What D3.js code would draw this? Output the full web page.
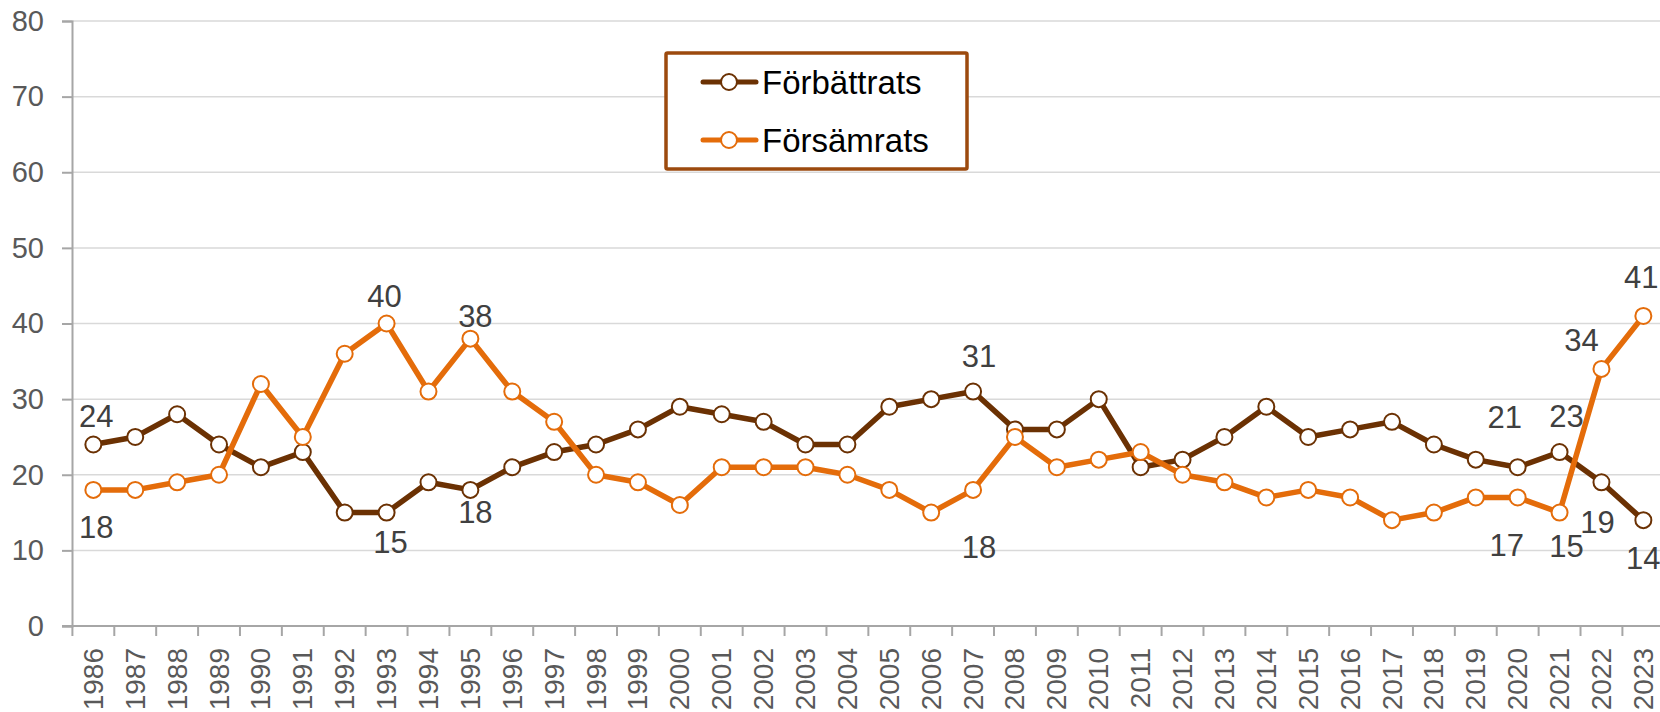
<!DOCTYPE html>
<html>
<head>
<meta charset="utf-8">
<script src="https://cdn.jsdelivr.net/npm/d3@7"></script>
<style>
    body { margin: 0; background: #fff; }
    svg { display: block; font-family: "Liberation Sans", Arial, sans-serif; }
</style>
</head>
<body>
<div id="chart"></div>
<script>
// Data
const years = d3.range(1986, 2024).map(String);
const forbattrats = [24, 25, 28, 24, 21, 23, 15, 15, 19, 18, 21, 23, 24, 26, 29, 28, 27, 24, 24, 29,
    30, 31, 26, 26, 30, 21, 22, 25, 29, 25, 26, 27, 24, 22, 21, 23, 19, 14];
const forsamrats = [18, 18, 19, 20, 32, 25, 36, 40, 31, 38, 31, 27, 20, 19, 16, 21, 21, 21, 20, 18,
    15, 18, 25, 21, 22, 23, 20, 19, 17, 18, 17, 14, 15, 17, 17, 15, 34, 41];
const yTicks = [0, 10, 20, 30, 40, 50, 60, 70, 80];

// which points get a value label: [series, year]
const labelledPoints = [
    ['f', '1986'], ['s', '1986'], ['f', '1993'], ['s', '1993'], ['f', '1995'], ['s', '1995'],
    ['f', '2007'], ['s', '2007'], ['f', '2020'], ['s', '2020'], ['f', '2021'], ['s', '2021'],
    ['f', '2022'], ['s', '2022'], ['f', '2023'], ['s', '2023']
];
// label placement relative to the point (style, not data)
const labelOffsets = {
    'f1986': [3, -28], 's1986': [3, 38], 'f1993': [4, 30], 's1993': [-2, -27],
    'f1995': [5, 23], 's1995': [5, -22], 'f2007': [6, -35], 's2007': [6, 58],
    'f2020': [-13, -50], 's2020': [-11, 48], 'f2021': [7, -36], 's2021': [7, 34],
    'f2022': [-4, 40], 's2022': [-20, -28], 'f2023': [0, 38], 's2023': [-2, -38]
};

const series = [
    { key: 'f', name: 'Förbättrats', values: forbattrats, color: '#6B3103' },
    { key: 's', name: 'Försämrats', values: forsamrats, color: '#E46C0A' }
];

const width = 1660, height = 712;
const svg = d3.select('#chart').append('svg')
    .attr('width', width)
    .attr('height', height);

const x = d3.scaleBand()
    .domain(years)
    .range([72.4, 1664.3]);

const y = d3.scaleLinear()
    .domain([0, 80])
    .range([626, 21]);

const cx = yr => x(yr) + x.bandwidth() / 2;

// Gridlines
svg.append('g')
    .selectAll('line')
    .data(yTicks.filter(d => d > 0))
    .join('line')
    .attr('x1', 72).attr('x2', width)
    .attr('y1', d => y(d)).attr('y2', d => y(d))
    .attr('stroke', '#d9d9d9')
    .attr('stroke-width', 1.5);

// Y axis
const yAxis = svg.append('g')
    .attr('transform', 'translate(72,0)')
    .call(d3.axisLeft(y).tickValues(yTicks).tickSize(10).tickPadding(18));
yAxis.select('.domain').attr('stroke', '#a6a6a6').attr('stroke-width', 2);
yAxis.selectAll('.tick line').attr('stroke', '#a6a6a6').attr('stroke-width', 2);
yAxis.selectAll('text')
    .attr('fill', '#595959')
    .style('font-size', '29px')
    .style('font-family', '"Liberation Sans", Arial, sans-serif');

// X axis: ticks at band boundaries
const xAxis = svg.append('g').attr('transform', 'translate(0,626)');
xAxis.append('line')
    .attr('x1', 62).attr('x2', width)
    .attr('stroke', '#a6a6a6').attr('stroke-width', 2);
xAxis.selectAll('.tk')
    .data(years)
    .join('line')
    .attr('class', 'tk')
    .attr('x1', d => x(d)).attr('x2', d => x(d))
    .attr('y1', 0).attr('y2', 10)
    .attr('stroke', '#a6a6a6').attr('stroke-width', 2);
xAxis.selectAll('text')
    .data(years)
    .join('text')
    .attr('transform', d => `translate(${cx(d)},22) rotate(-90)`)
    .attr('text-anchor', 'end')
    .attr('dominant-baseline', 'central')
    .attr('fill', '#595959')
    .style('font-size', '28px')
    .text(d => d);

// Lines and markers
const line = d3.line()
    .x((d, i) => cx(years[i]))
    .y(d => y(d));

series.forEach(s => {
    const g = svg.append('g');
    g.append('path')
        .datum(s.values)
        .attr('d', line)
        .attr('fill', 'none')
        .attr('stroke', s.color)
        .attr('stroke-width', 5.5)
        .attr('stroke-linejoin', 'round');
    g.selectAll('circle')
        .data(s.values)
        .join('circle')
        .attr('cx', (d, i) => cx(years[i]))
        .attr('cy', d => y(d))
        .attr('r', 8)
        .attr('fill', '#fff')
        .attr('stroke', s.color)
        .attr('stroke-width', 2);
});

// Data labels
svg.append('g')
    .selectAll('text')
    .data(labelledPoints)
    .join('text')
    .attr('x', d => cx(d[1]) + labelOffsets[d[0] + d[1]][0])
    .attr('y', d => {
        const s = series.find(q => q.key === d[0]);
        return y(s.values[years.indexOf(d[1])]) + labelOffsets[d[0] + d[1]][1];
    })
    .attr('text-anchor', 'middle')
    .attr('dominant-baseline', 'central')
    .attr('fill', '#404040')
    .style('font-size', '31px')
    .text(d => {
        const s = series.find(q => q.key === d[0]);
        return s.values[years.indexOf(d[1])];
    });

// Legend
const legend = svg.append('g');
legend.append('rect')
    .attr('x', 666).attr('y', 53)
    .attr('width', 301).attr('height', 116)
    .attr('fill', '#fff')
    .attr('stroke', '#9C4A0E')
    .attr('stroke-width', 3.5)
    .attr('rx', 1.5);
series.forEach((s, i) => {
    const ly = 82 + i * 58;
    legend.append('line')
        .attr('x1', 703).attr('x2', 756)
        .attr('y1', ly).attr('y2', ly)
        .attr('stroke', s.color).attr('stroke-width', 5)
        .attr('stroke-linecap', 'round');
    legend.append('circle')
        .attr('cx', 729).attr('cy', ly).attr('r', 8)
        .attr('fill', '#fff')
        .attr('stroke', s.color).attr('stroke-width', 2);
    legend.append('text')
        .attr('x', 762).attr('y', ly)
        .attr('dominant-baseline', 'central')
        .attr('fill', '#000')
        .style('font-size', '33px')
        .text(s.name);
});
</script>
</body>
</html>
